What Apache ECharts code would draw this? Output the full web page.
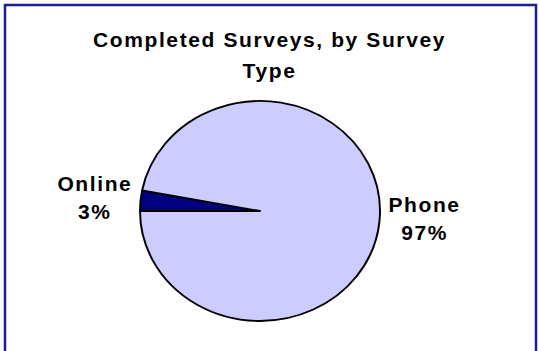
<!DOCTYPE html>
<html>
<head>
<meta charset="utf-8">
<script src="https://cdn.jsdelivr.net/npm/echarts@6/dist/echarts.min.js"></script>
<style>
  html, body { margin: 0; padding: 0; background: #ffffff; }
  #wrap { position: relative; width: 539px; height: 351px; overflow: hidden; background: #ffffff; }
  #pie, #front { position: absolute; left: 0; top: 0; width: 539px; height: 351px; }
  /* the pie is drawn slightly wider than tall */
  #pie { transform-origin: 260px 211px; transform: scaleX(1.0909); }
  #front text { letter-spacing: 1.6px; }
</style>
</head>
<body>
<div id="wrap">
  <div id="pie"></div>
  <div id="front"></div>
</div>
<script>
// Survey share by type (percent of completed surveys)
const categories = ['Online', 'Phone'];
const shares = [3, 97];
const sliceColors = ['#000080', '#ccccff'];
const titleLines = ['Completed Surveys, by Survey', 'Type'];

const FONT = '"Liberation Sans", Arial, Helvetica, sans-serif';
const CENTER = [260, 211];

const pieData = categories.map((name, i) => ({
  name: name,
  value: shares[i],
  itemStyle: { color: sliceColors[i] }
}));

// Back layer: the filled pie
const pieChart = echarts.init(document.getElementById('pie'), null, { renderer: 'svg' });
pieChart.setOption({
  animation: false,
  backgroundColor: '#ffffff',
  series: [{
    type: 'pie',
    center: CENTER,
    radius: 110,
    startAngle: 180,
    clockwise: true,
    silent: true,
    label: { show: false },
    labelLine: { show: false },
    itemStyle: { borderColor: '#000000', borderWidth: 1.8 },
    emphasis: { disabled: true },
    data: pieData
  }]
});

// Front layer: frame, title and slice labels
const front = echarts.init(document.getElementById('front'), null, { renderer: 'svg' });
front.setOption({
  animation: false,
  backgroundColor: 'transparent',
  title: {
    text: titleLines.join('\n'),
    left: 'center',
    top: 24,
    padding: 0,
    textStyle: {
      fontFamily: FONT,
      fontSize: 21,
      fontWeight: 'bold',
      color: '#000000',
      lineHeight: 31
    }
  },
  graphic: [{
    type: 'rect',
    shape: { x: 5, y: 5, width: 531, height: 420 },
    style: { fill: 'none', stroke: '#1c1c94', lineWidth: 2.5 },
    silent: true
  }],
  series: [{
    type: 'pie',
    center: CENTER,
    radius: 120,
    startAngle: 180,
    clockwise: true,
    silent: true,
    itemStyle: { color: 'rgba(0,0,0,0)', borderWidth: 0 },
    emphasis: { disabled: true },
    label: {
      show: true,
      position: 'outside',
      formatter: '{b}\n{c}%',
      fontFamily: FONT,
      fontSize: 21,
      fontWeight: 'bold',
      color: '#000000',
      lineHeight: 28
    },
    labelLine: { show: false, length: 1, length2: 2 },
    labelLayout: function (p) {
      const r = p.labelRect;
      const half = r.width / 2 + 5;
      const leftSide = p.align === 'right' || (r.x + r.width / 2) < CENTER[0];
      const x = leftSide ? r.x + r.width - half : r.x + half;
      const dy = leftSide ? -2 : -4;
      return { x: x, y: r.y + r.height / 2 + dy, align: 'center', verticalAlign: 'middle' };
    },
    data: pieData.map(d => ({ name: d.name, value: d.value }))
  }]
});
</script>
</body>
</html>
